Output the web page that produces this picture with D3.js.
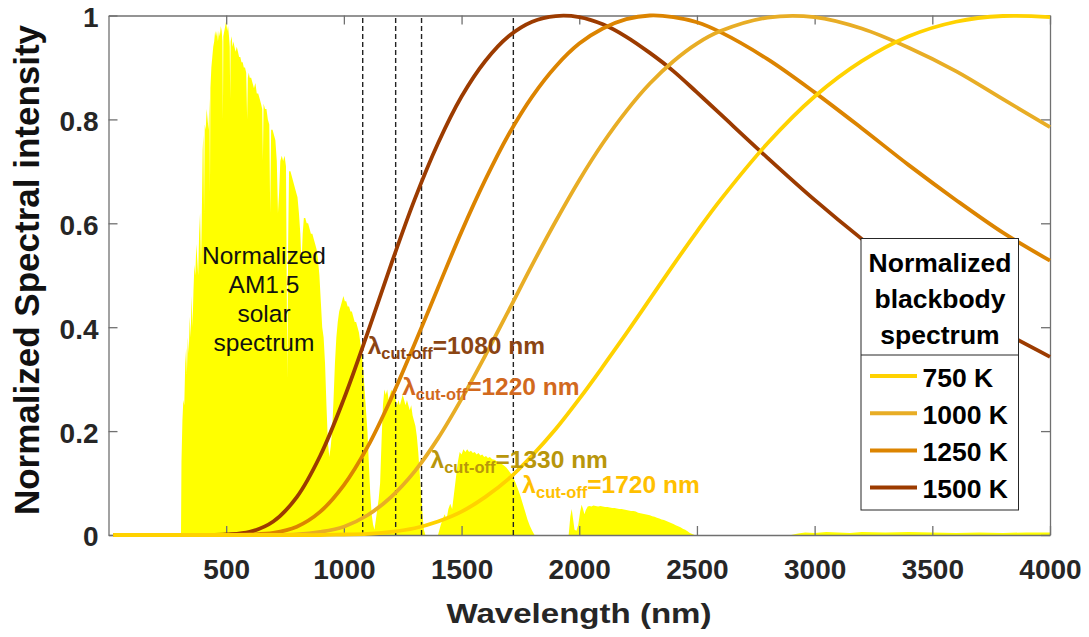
<!DOCTYPE html>
<html>
<head>
<meta charset="utf-8">
<script src="https://cdn.jsdelivr.net/npm/d3@7"></script>
<style>
body{margin:0;background:#fff;}
svg{display:block;font-family:"Liberation Sans",Arial,sans-serif;}
</style>
</head>
<body>
<script>
//wrap everything in anon function
(function(){
    //wavelength grid for the blackbody curves (nm)
    var bbWavelength = [20,400,500,600,700,800,900,1000,1100,1200,1300,1400,1500,1600,1700,1800,1900,2000,
        2100,2200,2300,2400,2500,2600,2800,3000,3200,3400,3600,3800,4000];
    //normalized blackbody spectra
    var bb750 = [0,0,0,0,0,0,0,0.001,0.002,0.006,0.013,0.026,0.045,0.073,0.108,0.153,0.204,0.262,
        0.324,0.388,0.454,0.520,0.584,0.645,0.754,0.844,0.912,0.960,0.988,0.999,0.997];
    var bb1000 = [0,0,0,0,0,0.001,0.006,0.016,0.038,0.073,0.122,0.186,0.262,0.345,0.432,0.520,0.604,0.683,
        0.754,0.816,0.869,0.912,0.946,0.970,0.996,0.997,0.975,0.938,0.893,0.839,0.785];
    var bb1250 = [0,0,0,0.001,0.004,0.016,0.045,0.096,0.169,0.262,0.367,0.476,0.584,0.683,0.771,0.844,0.902,0.946,
        0.975,0.993,1.000,0.997,0.987,0.968,0.916,0.852,0.783,0.712,0.645,0.582,0.528];
    var bb1500 = [0,0,0.001,0.006,0.026,0.073,0.153,0.262,0.388,0.520,0.645,0.754,0.844,0.912,0.960,0.988,0.999,0.997,
        0.983,0.959,0.928,0.893,0.852,0.810,0.726,0.645,0.570,0.501,0.442,0.391,0.343];
    var tempLabels = ["750 K","1000 K","1250 K","1500 K"];

    //cut-off wavelengths (nm)
    var cutoffs = [1080,1220,1330,1720];

    //normalized AM1.5 solar spectrum
    var solarWavelength = [300,308,310,314,318,322,326,330,333,337,341,345,349,353,357,361,365,369,373,377,381,385,389,393,396,
        400,403,406,409,413,417,421,425,429,431,433,437,441,445,449,453,457,461,465,469,473,477,481,484,486,488,492,496,
        500,504,508,512,515,517,519,523,527,531,535,540,545,550,555,560,565,570,575,580,585,589,592,596,
        600,606,612,618,624,630,636,642,648,653,656,659,665,671,677,683,687,691,697,
        703,709,715,720,725,730,736,742,748,754,760,763,767,773,779,785,791,797,
        803,809,815,820,825,830,836,842,848,854,860,866,872,878,884,890,896,
        902,908,914,920,926,932,938,944,950,956,962,968,974,980,986,992,998,
        1004,1010,1016,1022,1028,1034,1040,1046,1052,1058,1064,1070,1076,1082,1088,1094,
        1100,1106,1112,1118,1124,1130,1136,1142,1148,1154,1160,1166,1172,1178,1184,1190,1196,
        1202,1208,1214,1220,1226,1232,1238,1244,1250,1256,1262,1268,1274,1280,1286,1292,1298,
        1304,1310,1316,1322,1328,1334,1340,1346,1400,1406,1412,1420,1428,1436,1444,1452,1460,1468,1476,1484,1492,
        1500,1508,1516,1524,1532,1540,1548,1556,1564,1572,1580,1588,1596,
        1604,1612,1620,1630,1640,1650,1660,1670,1680,1690,1700,1710,1720,1730,1740,1750,1760,1770,1780,1790,1800,1810,
        1955,1962,1968,1974,1980,1988,1996,2004,2010,2016,2022,2028,2036,2044,2052,2060,2070,2080,2090,
        2100,2110,2120,2130,2140,2150,2160,2170,2180,2190,2200,2210,2220,2230,2240,2250,2260,2270,2280,2290,
        2300,2310,2320,2330,2340,2350,2360,2370,2380,2390,2400,2410,2420,2430,2440,2450,2460,2470,2480,2490,
        2900,2930,2960,3000,3050,3100,3150,3200,3300,3400,3500,3600,3700,3800,3900,4000];
    var solarIntensity = [0,0,0.14,0.22,0.26,0.25,0.33,0.36,0.31,0.38,0.35,0.42,0.38,0.46,0.40,0.47,0.52,0.50,0.56,0.53,0.50,0.58,0.62,0.52,0.60,
        0.74,0.77,0.62,0.79,0.78,0.82,0.80,0.78,0.84,0.66,0.86,0.90,0.92,0.94,0.95,0.97,0.96,0.97,0.95,0.97,0.96,0.98,0.97,0.95,0.80,0.96,0.97,0.98,
        0.99,0.97,0.98,0.96,0.94,0.84,0.95,0.96,0.94,0.95,0.94,0.93,0.94,0.93,0.92,0.92,0.91,0.91,0.90,0.90,0.89,0.80,0.88,0.89,
        0.88,0.88,0.87,0.86,0.87,0.85,0.85,0.84,0.83,0.82,0.72,0.83,0.82,0.82,0.80,0.79,0.62,0.78,0.78,
        0.77,0.76,0.72,0.62,0.66,0.72,0.73,0.72,0.73,0.71,0.30,0.55,0.70,0.70,0.69,0.68,0.67,0.66,
        0.65,0.62,0.58,0.52,0.58,0.61,0.61,0.60,0.60,0.59,0.58,0.58,0.57,0.56,0.55,0.53,0.50,
        0.45,0.40,0.38,0.33,0.25,0.18,0.15,0.17,0.20,0.26,0.33,0.38,0.41,0.43,0.44,0.45,0.46,
        0.45,0.45,0.44,0.44,0.43,0.43,0.42,0.41,0.41,0.40,0.39,0.37,0.35,0.32,0.28,0.24,
        0.20,0.14,0.08,0.04,0.02,0.01,0.03,0.05,0.07,0.10,0.18,0.25,0.28,0.27,0.28,0.26,0.27,
        0.28,0.27,0.28,0.26,0.25,0.26,0.25,0.26,0.27,0.26,0.25,0.26,0.25,0.24,0.25,0.23,0.22,
        0.21,0.19,0.16,0.12,0.08,0.04,0.01,0,0,0.01,0.02,0.03,0.04,0.03,0.05,0.06,0.05,0.08,0.11,0.14,0.16,
        0.155,0.165,0.16,0.165,0.16,0.162,0.158,0.16,0.155,0.158,0.153,0.155,0.15,
        0.152,0.148,0.15,0.146,0.145,0.142,0.14,0.137,0.134,0.13,0.124,0.118,0.11,0.10,0.088,0.075,0.06,0.045,0.03,0.018,0.008,0,
        0,0.035,0.05,0.03,0.01,0.008,0.02,0.045,0.058,0.05,0.04,0.048,0.055,0.056,0.055,0.057,0.056,0.055,0.056,
        0.055,0.054,0.054,0.053,0.052,0.052,0.051,0.05,0.05,0.049,0.048,0.047,0.046,0.046,0.045,0.043,0.042,0.041,0.04,0.039,
        0.038,0.036,0.035,0.033,0.032,0.03,0.029,0.027,0.025,0.023,0.021,0.019,0.017,0.015,0.012,0.01,0.007,0.004,0.002,0,
        0,0.003,0.005,0.004,0.006,0.005,0.004,0.006,0.005,0.006,0.005,0.004,0.005,0.004,0.005,0.005];

    //axis ticks
    var xTicks = [500,1000,1500,2000,2500,3000,3500,4000];
    var yTicks = [0,0.2,0.4,0.6,0.8,1];
    var yTickLabels = ["0","0.2","0.4","0.6","0.8","1"];

    //colors
    var bbColors = ["#ffd200","#e8ad25","#dc8400","#9c3b00"];
    var cutColors = ["#8b4513","#d2691e","#b8960b","#ffc000"];

    //svg frame
    var width = 1089, height = 637;
    var svg = d3.select("body")
        .append("svg")
        .attr("width", width)
        .attr("height", height);

    //scales
    var x = d3.scaleLinear().domain([0,4000]).range([108.5,1050]);
    var y = d3.scaleLinear().domain([0,1]).range([535,15.5]);

    //solar spectrum area
    var solarData = solarWavelength.map(function(w,i){ return [w, solarIntensity[i]]; });
    var area = d3.area()
        .x(function(d){ return x(d[0]); })
        .y0(y(0))
        .y1(function(d){ return y(d[1]); });
    svg.append("path")
        .datum(solarData)
        .attr("d", area)
        .attr("fill", "#ffff00");

    //axes (box, ticks inward)
    var axisColor = "#707070";
    var gx = svg.append("g")
        .attr("transform", "translate(0," + y(0) + ")")
        .call(d3.axisBottom(x).tickValues(xTicks).tickFormat(d3.format("d"))
            .tickSizeInner(-9).tickSizeOuter(0).tickPadding(24));
    var gxTop = svg.append("g")
        .attr("transform", "translate(0," + y(1) + ")")
        .call(d3.axisTop(x).tickValues(xTicks).tickSizeInner(-9).tickSizeOuter(0).tickFormat(""));
    var gy = svg.append("g")
        .attr("transform", "translate(" + x(0) + ",0)")
        .call(d3.axisLeft(y).tickValues(yTicks).tickSizeInner(-9).tickSizeOuter(0).tickPadding(10)
            .tickFormat(function(d,i){ return yTickLabels[i]; }));
    var gyRight = svg.append("g")
        .attr("transform", "translate(" + x(4000) + ",0)")
        .call(d3.axisRight(y).tickValues(yTicks).tickSizeInner(-9).tickSizeOuter(0).tickFormat(""));
    [gx,gxTop,gy,gyRight].forEach(function(g){
        g.select(".domain").attr("stroke", axisColor).attr("stroke-width", 1.3);
        g.selectAll(".tick line").attr("stroke", axisColor).attr("stroke-width", 1.3);
        g.selectAll(".tick text")
            .attr("fill", "#262626")
            .style("font-family", "'Liberation Sans',Arial,sans-serif")
            .style("font-size", "28px")
            .style("font-weight", "bold");
    });
    gy.selectAll(".tick text").attr("y", 2);

    //cut-off dashed lines
    svg.selectAll(".cutoff")
        .data(cutoffs)
        .enter()
        .append("line")
        .attr("class","cutoff")
        .attr("x1", function(d){ return x(d); })
        .attr("x2", function(d){ return x(d); })
        .attr("y1", y(0))
        .attr("y2", y(1))
        .attr("stroke", "#222")
        .attr("stroke-width", 1.4)
        .attr("stroke-dasharray", "5,3");

    //blackbody curves, hottest drawn first so 750 K sits on top
    var bbSeries = [bb750, bb1000, bb1250, bb1500];
    var line = d3.line()
        .x(function(d){ return x(d[0]); })
        .y(function(d){ return y(d[1]); })
        .curve(d3.curveCatmullRom.alpha(0.5));
    for (var s = bbSeries.length - 1; s >= 0; s--){
        var pts = bbWavelength.map(function(w,i){ return [w, bbSeries[s][i]]; });
        svg.append("path")
            .datum(pts)
            .attr("d", line)
            .attr("fill", "none")
            .attr("stroke", bbColors[s])
            .attr("stroke-width", 3.8)
            .attr("stroke-linejoin", "round");
    }

    //solar spectrum label
    var solarLines = ["Normalized","AM1.5","solar","spectrum"];
    svg.append("text")
        .attr("text-anchor", "middle")
        .style("font-size", "24.5px")
        .attr("fill", "#111")
        .selectAll("tspan")
        .data(solarLines)
        .enter()
        .append("tspan")
        .attr("x", 264)
        .attr("y", function(d,i){ return 263.5 + i * 29.2; })
        .text(function(d){ return d; });

    //cut-off labels
    var labelOffsets = [[5,353.5],[6.5,395],[9,467.5],[9,492.5]];
    cutoffs.forEach(function(c,i){
        var t = svg.append("text")
            .attr("x", x(c) + labelOffsets[i][0])
            .attr("y", labelOffsets[i][1])
            .attr("fill", cutColors[i])
            .style("font-weight", "bold")
            .style("font-size", "24.5px");
        t.append("tspan").text("\u03bb");
        t.append("tspan").attr("dy", 5).style("font-size", "16.5px").text("cut-off");
        t.append("tspan").attr("dy", -5).text("=" + c + " nm");
    });

    //axis titles
    svg.append("text")
        .attr("x", 579)
        .attr("y", 622.5)
        .attr("text-anchor", "middle")
        .attr("fill", "#262626")
        .attr("textLength", 265)
        .attr("lengthAdjust", "spacingAndGlyphs")
        .style("font-weight", "bold")
        .style("font-size", "28px")
        .text("Wavelength (nm)");
    svg.append("text")
        .attr("transform", "translate(38.5,270) rotate(-90)")
        .attr("text-anchor", "middle")
        .attr("fill", "#111")
        .style("font-weight", "bold")
        .style("font-size", "35px")
        .text("Normalized Spectral intensity");

    //legend
    var legend = svg.append("g");
    legend.append("rect")
        .attr("x", 861).attr("y", 238.5)
        .attr("width", 157.5).attr("height", 271.5)
        .attr("fill", "#fff")
        .attr("stroke", "#262626")
        .attr("stroke-width", 1);
    legend.append("line")
        .attr("x1", 861).attr("x2", 1018.5)
        .attr("y1", 355).attr("y2", 355)
        .attr("stroke", "#262626")
        .attr("stroke-width", 1);
    var titleLines = ["Normalized","blackbody","spectrum"];
    legend.append("text")
        .attr("text-anchor", "middle")
        .attr("fill", "#000")
        .style("font-weight", "bold")
        .style("font-size", "26.5px")
        .selectAll("tspan")
        .data(titleLines)
        .enter()
        .append("tspan")
        .attr("x", 940)
        .attr("y", function(d,i){ return 271.5 + i * 36; })
        .text(function(d){ return d; });
    var items = legend.selectAll(".item")
        .data(tempLabels)
        .enter()
        .append("g")
        .attr("class","item")
        .attr("transform", function(d,i){ return "translate(0," + (376 + i * 37.2) + ")"; });
    items.append("line")
        .attr("x1", 870).attr("x2", 917)
        .attr("stroke", function(d,i){ return bbColors[i]; })
        .attr("stroke-width", 4);
    items.append("text")
        .attr("x", 922.5)
        .attr("y", 10.5)
        .attr("fill", "#000")
        .style("font-weight", "bold")
        .style("font-size", "26.5px")
        .text(function(d){ return d; });
})();
</script>
</body>
</html>
